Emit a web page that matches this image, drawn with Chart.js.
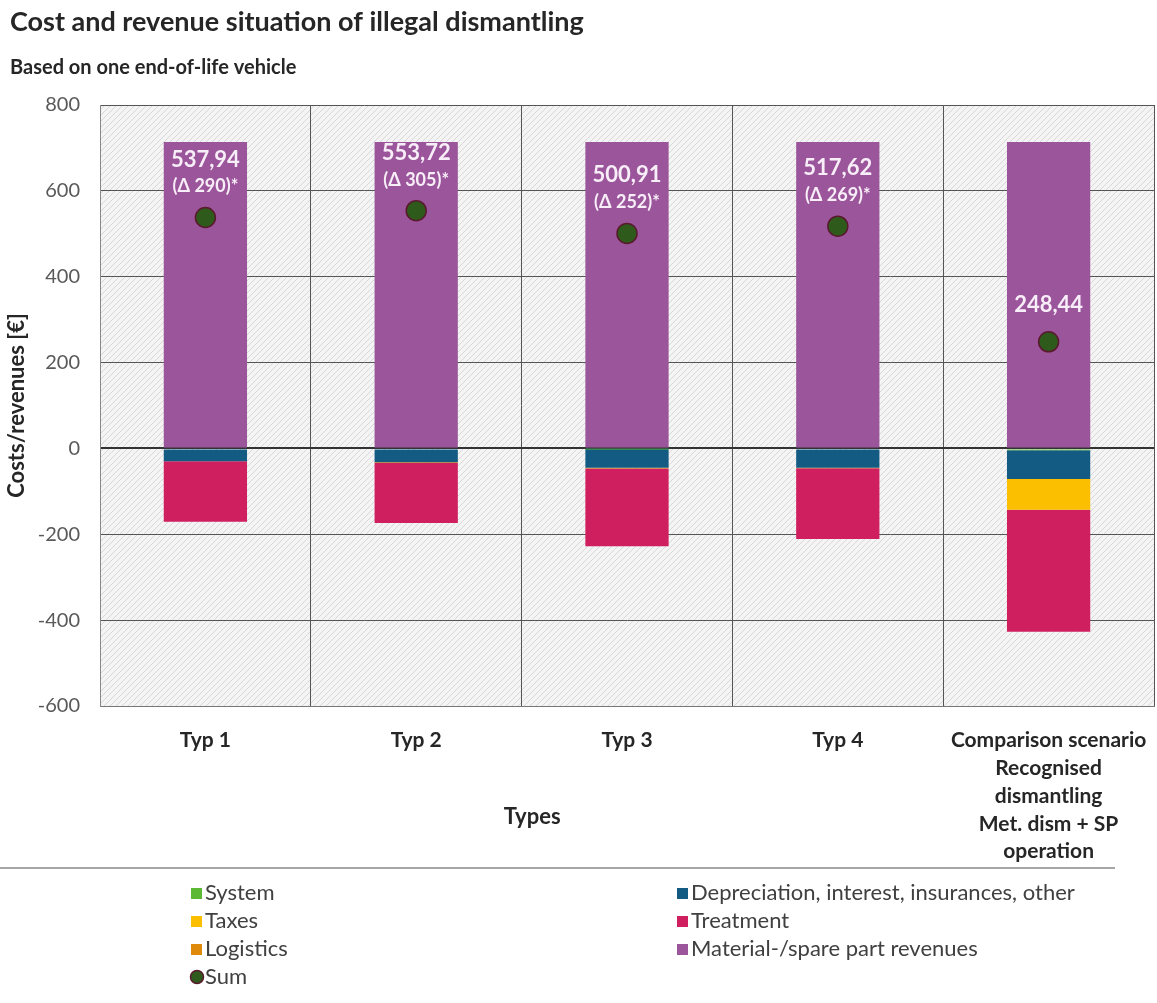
<!DOCTYPE html>
<html>
<head>
<meta charset="utf-8">
<script src="https://cdn.jsdelivr.net/npm/chart.js@4/dist/chart.umd.min.js"></script>
<style>
  html, body { margin: 0; padding: 0; background: #fff; }
  #wrap { width: 1157px; height: 1003px; position: relative; }
</style>
</head>
<body>
<div id="wrap"><canvas id="chart" width="1157" height="1003"></canvas></div>
<script>
// --- data (€ per end-of-life vehicle) ---
const categories = [
  "Typ 1", "Typ 2", "Typ 3", "Typ 4",
  ["Comparison scenario", "Recognised", "dismantling", "Met. dism + SP", "operation"]
];
const yTicks = [-600, -400, -200, 0, 200, 400, 600, 800];

const systemCosts       = [0, 0, -1, 0, -4];
const depreciationCosts = [-30, -32, -44, -45, -67];
const taxCosts          = [0, 0, 0, 0, -72];
const logisticsCosts    = [0, -2, -2, -1, 0];
const treatmentCosts    = [-141, -140, -181, -165, -284];
const materialRevenues  = [714, 714, 714, 714, 714];
const sumValues         = [537.94, 553.72, 500.91, 517.62, 248.44];
const sumLabels         = ["537,94", "553,72", "500,91", "517,62", "248,44"];
const deltaLabels       = ["(Δ 290)*", "(Δ 305)*", "(Δ 252)*", "(Δ 269)*", ""];

const FONT = "Lato, 'Open Sans', sans-serif";

// diagonal hatch for the plot background
function makeHatch() {
  const c = document.createElement("canvas");
  c.width = 6; c.height = 6;
  const g = c.getContext("2d");
  g.fillStyle = "#f4f4f4";
  g.fillRect(0, 0, 6, 6);
  g.strokeStyle = "#d8d8d8";
  g.lineWidth = 1;
  g.beginPath();
  g.moveTo(0, 6); g.lineTo(6, 0);
  g.moveTo(-3, 3); g.lineTo(3, -3);
  g.moveTo(3, 9); g.lineTo(9, 3);
  g.stroke();
  return g.createPattern(c, "repeat");
}

const bgPlugin = {
  id: "hatchBg",
  beforeDraw(chart) {
    const { ctx, chartArea: a } = chart;
    ctx.save();
    ctx.fillStyle = makeHatch();
    ctx.fillRect(a.left, a.top, a.right - a.left, a.bottom - a.top);
    ctx.restore();
  }
};

// titles, x-axis caption, separator and legend
const decorPlugin = {
  id: "decor",
  afterDraw(chart) {
    const { ctx, chartArea: a } = chart;
    ctx.save();
    ctx.fillStyle = "#262626";
    ctx.textBaseline = "middle";
    ctx.textAlign = "left";
    ctx.font = "bold 27px " + FONT;
    ctx.fillText("Cost and revenue situation of illegal dismantling", 10, 22);
    ctx.font = "bold 20px " + FONT;
    ctx.fillText("Based on one end-of-life vehicle", 10, 68);

    ctx.textAlign = "center";
    ctx.font = "bold 22px " + FONT;
    ctx.fillText("Types", a.left + (a.right - a.left) * 0.41, 817);

    ctx.strokeStyle = "#a6a6a6";
    ctx.lineWidth = 2;
    ctx.beginPath();
    ctx.moveTo(0, 868); ctx.lineTo(1115, 868);
    ctx.stroke();

    // legend, column-major in two columns
    const ds = chart.data.datasets;
    const columns = [[0, 2, 3, 6], [1, 4, 5]];
    const colX = [191, 677];
    ctx.font = "22px " + FONT;
    ctx.textAlign = "left";
    columns.forEach((col, ci) => {
      col.forEach((di, ri) => {
        const d = ds[di];
        const x = colX[ci], y = 893 + ri * 28;
        if (d.type === "line") {
          ctx.beginPath();
          ctx.arc(x + 6, y, 6.5, 0, Math.PI * 2);
          ctx.fillStyle = d.backgroundColor;
          ctx.fill();
          ctx.lineWidth = 1.5;
          ctx.strokeStyle = d.borderColor;
          ctx.stroke();
        } else {
          ctx.fillStyle = d.backgroundColor;
          ctx.fillRect(x, y - 5, 11, 11);
        }
        ctx.fillStyle = "#404040";
        ctx.fillText(d.label, x + 14, y);
      });
    });
    ctx.restore();
  }
};

// sum values written above each dot
const sumLabelPlugin = {
  id: "sumLabels",
  afterDatasetsDraw(chart) {
    const { ctx } = chart;
    const meta = chart.getDatasetMeta(6);
    ctx.save();
    ctx.fillStyle = "#f8eef8";
    ctx.textAlign = "center";
    ctx.textBaseline = "middle";
    meta.data.forEach((pt, i) => {
      const twoLines = deltaLabels[i] !== "";
      ctx.font = "bold 22px " + FONT;
      ctx.fillText(sumLabels[i], pt.x, pt.y - (twoLines ? 58 : 37));
      if (twoLines) {
        ctx.font = "bold 18px " + FONT;
        ctx.fillText(deltaLabels[i], pt.x, pt.y - 31);
      }
    });
    ctx.restore();
  }
};

const barDefaults = { type: "bar", stack: "costs", order: 1, borderWidth: 0 };

new Chart(document.getElementById("chart"), {
  data: {
    labels: categories,
    datasets: [
      { ...barDefaults, label: "System", data: systemCosts, backgroundColor: "#5cb936" },
      { ...barDefaults, label: "Depreciation, interest, insurances, other", data: depreciationCosts, backgroundColor: "#135b83" },
      { ...barDefaults, label: "Taxes", data: taxCosts, backgroundColor: "#fcbf00" },
      { ...barDefaults, label: "Logistics", data: logisticsCosts, backgroundColor: "#e08a0c" },
      { ...barDefaults, label: "Treatment", data: treatmentCosts, backgroundColor: "#cf1f5e" },
      { ...barDefaults, label: "Material-/spare part revenues", data: materialRevenues, backgroundColor: "#9b559b" },
      {
        type: "line", label: "Sum", data: sumValues, stack: "sum", order: 0,
        showLine: false, pointRadius: 10, pointHoverRadius: 10,
        backgroundColor: "#2e5a1c", borderColor: "#5a1a2e", pointBorderWidth: 1.5
      }
    ]
  },
  options: {
    responsive: false,
    animation: false,
    layout: { autoPadding: false, padding: { top: 105, left: 0, right: 3, bottom: 0 } },
    datasets: { bar: { categoryPercentage: 1, barPercentage: 0.395 } },
    plugins: {
      legend: { display: false },
      tooltip: { enabled: false }
    },
    scales: {
      x: {
        stacked: true,
        offset: true,
        grid: { offset: true, color: "#555", lineWidth: 1, drawTicks: false },
        border: { color: "#777" },
        ticks: {
          color: "#262626",
          font: { family: FONT, size: 21, weight: "bold", lineHeight: 1.33 },
          padding: 20,
          maxRotation: 0,
          autoSkip: false
        },
        afterFit(scale) {
          scale.height = 297;
          scale.paddingLeft = 0;
          scale.paddingRight = 0;
        }
      },
      y: {
        stacked: true,
        min: yTicks[0],
        max: yTicks[yTicks.length - 1],
        afterBuildTicks(scale) { scale.ticks = yTicks.map(v => ({ value: v })); },
        grid: {
          color: ctx => ctx.tick && ctx.tick.value === 0 ? "#333" : "#555",
          lineWidth: ctx => ctx.tick && ctx.tick.value === 0 ? 2 : 1,
          drawTicks: false
        },
        border: { color: "#888" },
        ticks: {
          color: "#595959",
          font: { family: FONT, size: 20 },
          padding: 20
        },
        title: {
          display: true,
          text: "Costs/revenues [€]",
          color: "#262626",
          font: { family: FONT, size: 22, weight: "bold" },
          padding: { top: 4, bottom: 0 }
        },
        afterFit(scale) { scale.width = 100; }
      }
    }
  },
  plugins: [bgPlugin, sumLabelPlugin, decorPlugin]
});
</script>
</body>
</html>
